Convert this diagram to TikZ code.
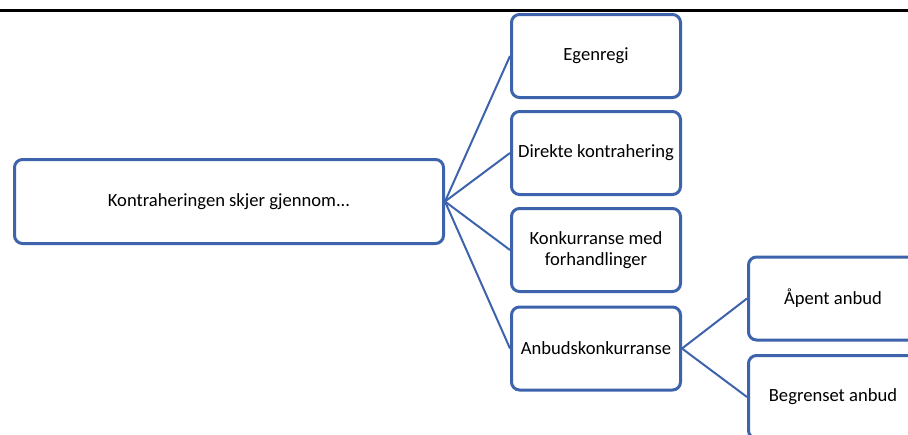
\documentclass[tikz,border=0pt]{standalone}
\usepackage{fontspec}
\setmainfont{Carlito}
\usetikzlibrary{positioning}
\definecolor{boxblue}{RGB}{62,99,173}

\begin{document}
\begin{tikzpicture}[x=1pt, y=-1pt,
    box/.style={draw=boxblue, line width=3pt, rounded corners=8pt, fill=white,
        minimum width=169pt, minimum height=83pt, align=center, inner sep=2pt,
        font=\fontsize{18.6}{20.5}\selectfont},
    link/.style={draw=boxblue, line width=2pt}]

\useasboundingbox (0,0) rectangle (908,434);
\clip (0,0) rectangle (908,434);

% top rule
\draw[line width=3pt] (0,10) -- (908,10);

% root
\node[box, minimum width=429pt, minimum height=84pt] (root) at (229,201.5) {Kontraheringen skjer gjennom...};

% first level
\node[box] (egen) at (596,56) {Egenregi};
\node[box] (direkte) at (596,153) {Direkte kontrahering};
\node[box] (forh) at (596,250) {Konkurranse med\\forhandlinger};
\node[box] (anbud) at (596,348.5) {Anbudskonkurranse};

% second level
\node[box] (aapent) at (833,298.5) {Åpent anbud};
\node[box] (begr) at (833,397) {Begrenset anbud};

% links
\draw[link] (root.east) -- (egen.west);
\draw[link] (root.east) -- (direkte.west);
\draw[link] (root.east) -- (forh.west);
\draw[link] (root.east) -- (anbud.west);
\draw[link] (anbud.east) -- (aapent.west);
\draw[link] (anbud.east) -- (begr.west);

\end{tikzpicture}
\end{document}
